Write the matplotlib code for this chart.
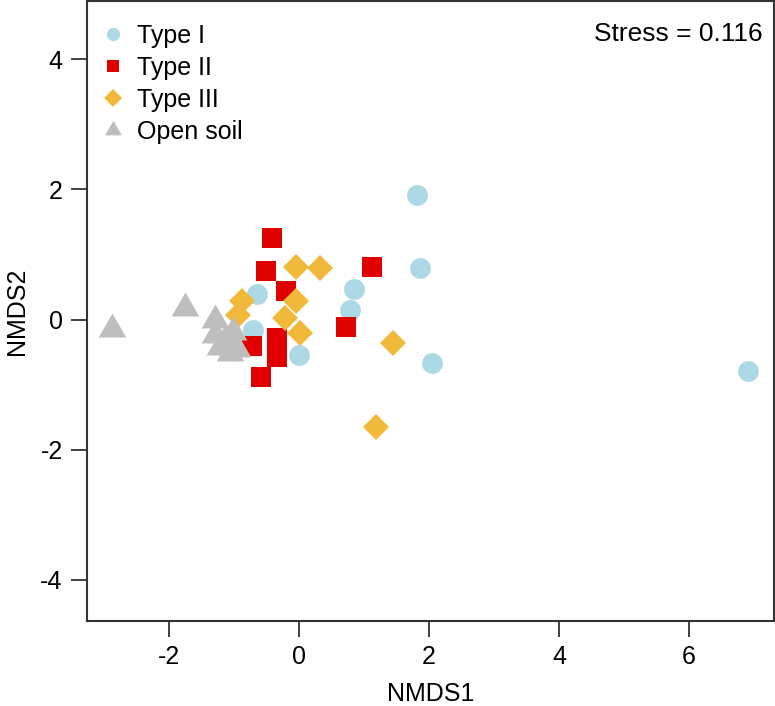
import matplotlib.pyplot as plt
from matplotlib.lines import Line2D

plt.rcParams['font.family'] = ['Liberation Sans', 'DejaVu Sans']
plt.rcParams['axes.unicode_minus'] = False

# NMDS scores
type1_x = [1.82, 1.86, 6.91, 2.04, 0.85, 0.79, -0.65, -0.70, 0.00]
type1_y = [1.91, 0.79, -0.79, -0.66, 0.47, 0.15, 0.39, -0.16, -0.55]

type2_x = [-0.42, -0.51, 1.12, -0.20, 0.72, -0.72, -0.34, -0.34, -0.59]
type2_y = [1.25, 0.75, 0.80, 0.44, -0.12, -0.41, -0.29, -0.57, -0.89]

type3_x = [-0.04, 0.32, -0.88, -0.93, -0.04, -0.22, 0.02, 1.45, 1.18]
type3_y = [0.80, 0.79, 0.28, 0.07, 0.28, 0.02, -0.21, -0.36, -1.65]

soil_x = [-2.88, -1.75, -1.29, -1.29, -1.01, -1.22, -1.06, -1.15, -0.95]
soil_y = [-0.14, 0.17, -0.01, -0.24, -0.19, -0.42, -0.52, -0.35, -0.45]

labels = ['Type I', 'Type II', 'Type III', 'Open soil']
colors = ['#ADD8E6', '#E00000', '#F0B93A', '#BEBEBE']

# equilateral triangle like R's pch 17
tri = [(-1, -0.577), (1, -0.577), (0, 1.155)]
markers = ['o', 's', 'D', tri]
sizes = [15, 14, 13, 23]
leg_sizes = [9.5, 8.5, 9, 14]

fig = plt.figure(figsize=(7.75, 7.06), dpi=100)
ax = fig.add_axes([0.1123, 0.1204, 0.8865, 0.878])

series = [(type1_x, type1_y), (type2_x, type2_y), (type3_x, type3_y), (soil_x, soil_y)]
for (xs, ys), c, m, s in zip(series, colors, markers, sizes):
    ax.plot(xs, ys, linestyle='none', marker=m, markersize=s, color=c, markeredgewidth=0)

ax.set_xlim(-3.26, 7.31)
ax.set_ylim(-4.63, 4.89)
ax.set_xticks([-2, 0, 2, 4, 6])
ax.set_yticks([-4, -2, 0, 2, 4])
ax.tick_params(labelsize=18, length=11.5, width=1.3, color='#333333', pad=6)
for sp in ax.spines.values():
    sp.set_linewidth(1.5)
    sp.set_color('#333333')

ax.set_xlabel('NMDS1', fontsize=18, labelpad=9)
ax.set_ylabel('NMDS2', fontsize=18, labelpad=8)

handles = [Line2D([], [], linestyle='none', marker=m, color=c, markersize=ms, markeredgewidth=0)
           for m, c, ms in zip(markers, colors, leg_sizes)]
ax.legend(handles, labels, loc='upper left', bbox_to_anchor=(-0.006, 0.992), frameon=False,
          fontsize=18, handletextpad=0.45, labelspacing=0.32, borderaxespad=0.3,
          handlelength=1.0, borderpad=0.4)

ax.text(0.983, 0.947, 'Stress = 0.116', transform=ax.transAxes, ha='right', va='center', fontsize=19)

fig.savefig('out.png', dpi=100)
